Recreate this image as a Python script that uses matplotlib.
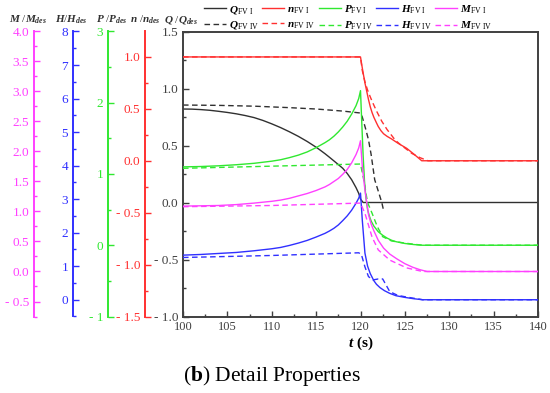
import matplotlib
matplotlib.use('Agg')
import matplotlib.pyplot as plt
from matplotlib.ticker import MultipleLocator, FuncFormatter

plt.rcParams['font.family'] = ['Liberation Serif', 'DejaVu Serif']
plt.rcParams['mathtext.fontset'] = 'custom'
plt.rcParams['mathtext.rm'] = 'Liberation Serif'
plt.rcParams['mathtext.it'] = 'Liberation Serif:italic:bold'
plt.rcParams['mathtext.bf'] = 'Liberation Serif:bold'

# Q / Q_des (main axis)
t_q1 = [100, 101, 102, 103, 104, 105, 106, 107, 108, 109, 110, 111, 112, 113,
        114, 115, 115.5, 116, 116.5, 117, 117.5, 118, 118.5, 119, 119.5, 119.8,
        120, 120.3, 140]
q1 = [0.82, 0.819, 0.815, 0.809, 0.80, 0.79, 0.778, 0.763, 0.745, 0.72, 0.69,
      0.657, 0.62, 0.58, 0.535, 0.485, 0.457, 0.428, 0.397, 0.365, 0.333, 0.30,
      0.255, 0.20, 0.13, 0.08, 0.03, 0.0, 0.0]
t_q4 = [100, 104, 108, 112, 115, 118, 120, 120.2, 120.6, 120.9, 121.2, 121.4,
        121.6, 122.0, 122.4, 122.6]
q4 = [0.855, 0.852, 0.845, 0.832, 0.82, 0.802, 0.785, 0.75, 0.64, 0.55, 0.42,
      0.31, 0.2, 0.1, 0.0, -0.07]

# n / n_des
t_n1 = [100, 120, 120.15, 120.3, 120.5, 120.7, 120.9, 121.1, 121.3, 121.5,
        121.8, 122, 122.3, 122.6, 123, 123.5, 124.2, 125.2, 126, 126.9, 140]
n1 = [1.0, 1.0, 0.92, 0.845, 0.75, 0.67, 0.59, 0.52, 0.465, 0.42, 0.365, 0.33,
      0.29, 0.26, 0.235, 0.21, 0.17, 0.12, 0.065, 0.0, 0.0]
t_n4 = [100, 120, 120.2, 120.5, 120.8, 121.1, 121.4, 121.8, 122.4, 123, 123.5,
        123.9, 124.5, 125.2, 125.8, 126.7, 127.6, 140]
n4 = [1.0, 1.0, 0.87, 0.76, 0.68, 0.615, 0.555, 0.48, 0.38, 0.30, 0.245, 0.20,
      0.155, 0.11, 0.07, 0.03, 0.0, 0.0]

# P / P_des
t_p1 = [100, 102, 104, 106, 108, 110, 111, 112, 113, 114, 115, 116, 116.5, 117,
        117.5, 118, 118.5, 119, 119.5, 119.8, 120, 120.15, 120.3, 120.45, 120.6,
        120.8, 121, 121.2, 121.5, 122, 122.5, 123, 123.5, 124, 125, 126, 127,
        140]
p1 = [1.10, 1.105, 1.115, 1.13, 1.15, 1.18, 1.20, 1.23, 1.265, 1.31, 1.37, 1.44,
      1.48, 1.53, 1.59, 1.66, 1.74, 1.84, 1.96, 2.06, 2.17, 1.7, 1.25, 0.9, 0.68,
      0.5, 0.41, 0.34, 0.27, 0.19, 0.14, 0.10, 0.07, 0.05, 0.025, 0.01, 0.0, 0.0]
t_p4 = [100, 110, 120, 120.2, 120.4, 120.6, 120.8, 121.3, 121.9, 122.5, 123.5,
        125, 127, 140]
p4 = [1.08, 1.11, 1.14, 1.02, 0.9, 0.74, 0.6, 0.45, 0.26, 0.12, 0.06, 0.03, 0.0,
      0.0]

# H / H_des
t_h1 = [100, 102, 104, 106, 108, 110, 111, 112, 113, 114, 115, 116, 116.5, 117,
        117.5, 118, 118.5, 119, 119.5, 119.8, 120, 120.2, 120.5, 120.8, 121.1,
        121.5, 121.8, 122.2, 122.7, 123.3, 124, 125, 126, 127, 140]
h1 = [1.33, 1.35, 1.38, 1.41, 1.46, 1.52, 1.56, 1.62, 1.69, 1.77, 1.87, 1.98,
      2.05, 2.13, 2.23, 2.36, 2.50, 2.67, 2.88, 3.03, 3.18, 2.38, 1.39, 1.0, 0.78,
      0.57, 0.46, 0.36, 0.27, 0.19, 0.12, 0.07, 0.03, 0.0, 0.0]
t_h4 = [100, 110, 119.8, 120.1, 120.5, 120.9, 121.4, 122.0, 122.5, 123.3,
        124.2, 125.2, 127, 140]
h4 = [1.26, 1.32, 1.40, 1.35, 0.98, 0.69, 0.59, 0.62, 0.62, 0.24, 0.13, 0.08,
      0.0, 0.0]

# M / M_des
t_m1 = [100, 102, 104, 106, 108, 110, 111, 112, 113, 114, 115, 116, 116.5, 117,
        117.5, 118, 118.5, 119, 119.5, 119.8, 120, 120.2, 120.5, 120.9, 121.2,
        121.5, 122, 122.6, 123.3, 124.1, 125, 125.9, 126.7, 127.5, 140]
m1 = [1.09, 1.095, 1.10, 1.115, 1.14, 1.17, 1.19, 1.22, 1.26, 1.30, 1.35, 1.41,
      1.45, 1.50, 1.55, 1.62, 1.70, 1.81, 1.95, 2.06, 2.18, 1.75, 1.36, 0.95,
      0.79, 0.68, 0.52, 0.39, 0.29, 0.21, 0.13, 0.07, 0.03, 0.0, 0.0]
t_m4 = [100, 110, 120, 120.5, 121.3, 122, 123.3, 125.2, 127, 140]
m4 = [1.08, 1.10, 1.14, 0.97, 0.575, 0.36, 0.19, 0.06, 0.0, 0.0]

c_q = '#303030'
c_n = '#ff3030'
c_p = '#30e830'
c_h = '#3030ff'
c_m = '#ff40ff'
dashed = (0, (4, 2.5))


def dash_fmt(dec):
    def f(v, pos):
        s = f'{abs(v):.{dec}f}'
        return f'- {s}' if v < -1e-9 else s
    return FuncFormatter(f)


fig = plt.figure(figsize=(5.5, 3.93), dpi=100)
ax = fig.add_axes([183 / 550, 1 - 316.5 / 393, 355 / 550, 285 / 393])
ax.set_xlim(100, 140)
ax.set_ylim(-1.0, 1.5)
ax.xaxis.set_major_locator(MultipleLocator(5))
ax.xaxis.set_minor_locator(MultipleLocator(2.5))
ax.yaxis.set_major_locator(MultipleLocator(0.5))
ax.yaxis.set_minor_locator(MultipleLocator(0.25))
ax.yaxis.set_major_formatter(dash_fmt(1))
for s in ax.spines.values():
    s.set_color('#404040')
    s.set_linewidth(1.4)
ax.tick_params(which='both', direction='in', top=False, right=False,
               color='#404040', labelcolor='#404040')
ax.tick_params(which='major', length=4, width=1.0, labelsize=9.5)
ax.tick_params(which='minor', length=2.5, width=1.0)
ax.tick_params(axis='x', labelsize=9)
ax.set_xlabel(r'$t$ (s)', fontsize=11, fontweight='bold', labelpad=1)

ln_q1, = ax.plot(t_q1, q1, color=c_q, lw=1.0)
ln_q4, = ax.plot(t_q4, q4, color=c_q, lw=1.0, ls=dashed)


def side_axis(pos, color, lim, major, minor, dec):
    a = ax.twinx()
    a.patch.set_visible(False)
    for k in ('top', 'bottom', 'right'):
        a.spines[k].set_visible(False)
    a.spines['left'].set_visible(True)
    a.spines['left'].set_position(('axes', pos))
    a.spines['left'].set_color(color)
    a.spines['left'].set_linewidth(1.4)
    a.yaxis.set_ticks_position('left')
    a.set_ylim(*lim)
    a.yaxis.set_major_locator(MultipleLocator(major))
    a.yaxis.set_minor_locator(MultipleLocator(minor))
    a.yaxis.set_major_formatter(dash_fmt(dec))
    a.tick_params(which='both', direction='in', color=color, labelcolor=color,
                  labelsize=9.5, width=1.0)
    a.tick_params(which='major', length=4)
    a.tick_params(which='minor', length=2.5)
    return a


axn = side_axis((145 - 183) / 355, c_n, (-1.5, 1.245), 0.5, 0.25, 1)
axp = side_axis((108 - 183) / 355, c_p, (-1, 3), 1, 0.5, 0)
axh = side_axis((73 - 183) / 355, c_h, (-0.5, 8), 1, 0.5, 0)
axm = side_axis((34 - 183) / 355, c_m, (-0.75, 4.0), 0.5, 0.25, 1)

ln_n1, = axn.plot(t_n1, n1, color=c_n, lw=1.0)
ln_n4, = axn.plot(t_n4, n4, color=c_n, lw=1.0, ls=dashed)
ln_p1, = axp.plot(t_p1, p1, color=c_p, lw=1.0)
ln_p4, = axp.plot(t_p4, p4, color=c_p, lw=1.0, ls=dashed)
ln_h1, = axh.plot(t_h1, h1, color=c_h, lw=1.0)
ln_h4, = axh.plot(t_h4, h4, color=c_h, lw=1.0, ls=dashed)
ln_m1, = axm.plot(t_m1, m1, color=c_m, lw=1.0)
ln_m4, = axm.plot(t_m4, m4, color=c_m, lw=1.0, ls=dashed)

# axis titles above each spine
titles = [(28, r'$M\ /M_{des}$'), (71, r'$H/H_{des}$'), (112, r'$P\ /P_{des}$'),
          (145, r'$n\ /n_{des}$'), (181, r'$Q\ /Q_{des}$')]
for x, s in titles:
    fig.text(x / 550, 1 - 20 / 393, s, ha='center', va='center', fontsize=8,
             color='#303030')

handles = [ln_q1, ln_q4, ln_n1, ln_n4, ln_p1, ln_p4, ln_h1, ln_h4, ln_m1, ln_m4]
labels = [r'$Q_{\rm FV\ I}$', r'$Q_{\rm FV\ IV}$', r'$n_{\rm FV\ I}$',
          r'$n_{\rm FV\ IV}$', r'$P_{\rm FV\ I}$', r'$P_{\rm FV\ IV}$',
          r'$H_{\rm FV\ I}$', r'$H_{\rm FV\ IV}$', r'$M_{\rm FV\ I}$',
          r'$M_{\rm FV\ IV}$']
fig.legend(handles, labels, ncol=5, loc='upper center',
           bbox_to_anchor=(348 / 550, 1.012), frameon=False, fontsize=8,
           handlelength=2.0, handletextpad=0.25, columnspacing=0.3,
           labelspacing=0.35, borderpad=0.2)

fig.text(272 / 550, 1 - 376 / 393, r'($\mathbf{b}$) Detail Properties',
         ha='center', va='center', fontsize=15.5)

fig.savefig('out.png', dpi=100)
